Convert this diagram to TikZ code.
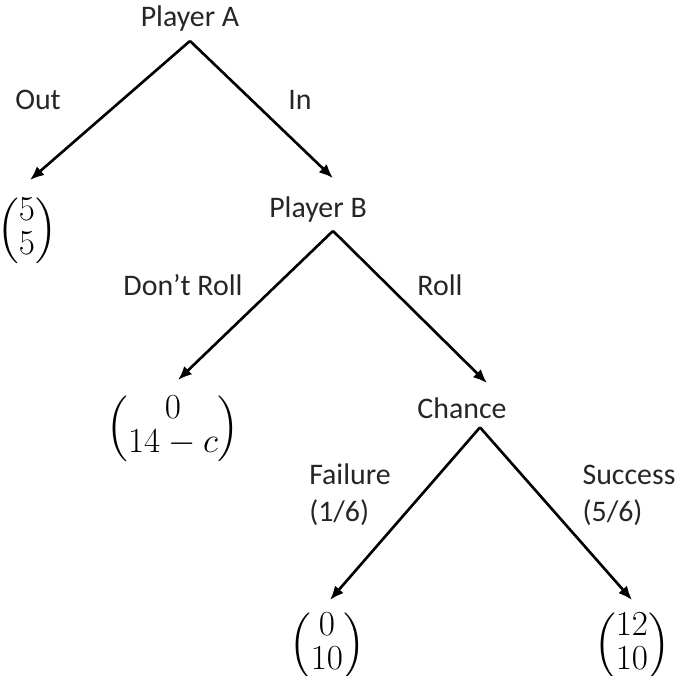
\documentclass[tikz,border=0pt]{standalone}
\usepackage{fix-cm}
\usepackage{amsmath}
\usepackage{fontspec}
\setmainfont{Carlito}
\usetikzlibrary{arrows.meta}

% payoff column (A over B)
\newcommand{\payvec}[2]{$\renewcommand{\arraystretch}{0.8}\Bigl(\begin{matrix}#1\\#2\end{matrix}\Bigr)$}

\begin{document}
\begin{tikzpicture}[x=0.02cm,y=-0.02cm,font=\fontsize{17}{21}\selectfont,
    player/.style={inner sep=5pt,anchor=base,text=black!85},
    lbl/.style={inner sep=1pt,align=left,text=black!85},
    pay/.style={inner sep=0pt,anchor=north,font=\fontsize{20}{24}\selectfont},
    arr/.style={-{Latex[length=2.8mm,width=2.3mm]},line width=1.5pt}]
  \useasboundingbox (0,0) rectangle (685,675);

  % decision nodes
  \node[player] (pA) at (190,27) {Player A};
  \node[player] (pB) at (318,217) {Player B};
  \node[player] (chance) at (462,418) {Chance};

  % payoffs
  \node[pay] (out)  at (27,197)  {\payvec{5}{5}};
  \node[pay] (dont) at (173,395) {\payvec{0}{14-c}};
  \node[pay] (fail) at (327,612) {\payvec{0}{10}};
  \node[pay] (succ) at (632,612) {\payvec{12}{10}};

  % branch labels
  \node[lbl] (lOut)  at (38,100)  {Out};
  \node[lbl] (lIn)   at (300,100) {In};
  \node[lbl] (lDont) at (183,285) {Don’t Roll};
  \node[lbl] (lRoll) at (440,285) {Roll};
  \node[lbl] (lFail) at (350,495) {Failure\\(1/6)};
  \node[lbl] (lSucc) at (629,495) {Success\\(5/6)};

  \draw[arr] (pA.south) -- ([xshift=0.06cm,yshift=0.34cm]out.north);
  \draw[arr] (pA.south) -- ([xshift=0.3cm,yshift=0.18cm]pB.north);
  \draw[arr] ([xshift=0.3cm]pB.south) -- ([xshift=0.1cm,yshift=0.3cm]dont.north);
  \draw[arr] ([xshift=0.3cm]pB.south) -- ([xshift=0.5cm,yshift=0.1cm]chance.north);
  \draw[arr] ([xshift=0.36cm]chance.south) -- ([xshift=0.06cm,yshift=0.24cm]fail.north);
  \draw[arr] ([xshift=0.36cm]chance.south) -- ([yshift=0.24cm]succ.north);
\end{tikzpicture}
\end{document}
